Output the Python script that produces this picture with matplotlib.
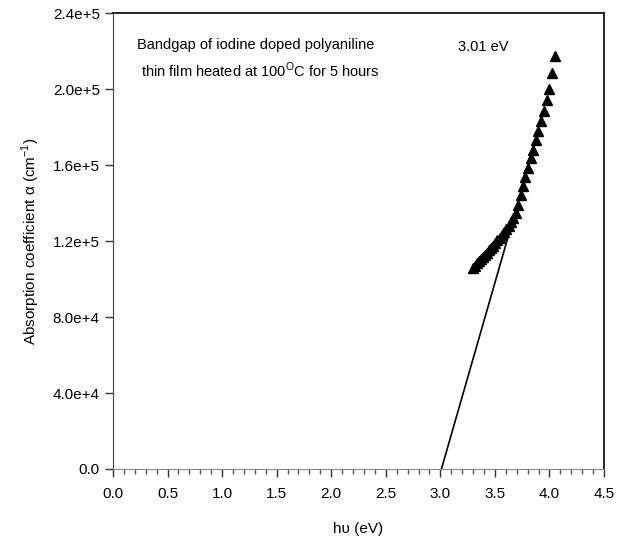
import numpy as np
import matplotlib.pyplot as plt
from matplotlib.ticker import MultipleLocator, FixedLocator

plt.rcParams['font.family'] = ['Liberation Sans', 'DejaVu Sans']
plt.rcParams['mathtext.fontset'] = 'custom'
plt.rcParams['mathtext.rm'] = 'Liberation Sans'

# photon energy (eV) and absorption coefficient (cm^-1)
energy = [3.298, 3.316, 3.333, 3.351, 3.370, 3.388, 3.407, 3.425, 3.444,
          3.464, 3.483, 3.503, 3.523, 3.543, 3.563, 3.584, 3.605, 3.626,
          3.647, 3.669, 3.690, 3.713, 3.735, 3.758, 3.780, 3.804, 3.827,
          3.851, 3.875, 3.899, 3.924, 3.949, 3.974, 4.000, 4.026, 4.052]
alpha = [1.060, 1.071, 1.082, 1.093, 1.105, 1.116, 1.127, 1.139, 1.151,
         1.163, 1.176, 1.190, 1.203, 1.217, 1.231, 1.246, 1.262, 1.280,
         1.300, 1.322, 1.350, 1.390, 1.440, 1.490, 1.535, 1.585, 1.635,
         1.680, 1.730, 1.780, 1.830, 1.885, 1.940, 2.000, 2.085, 2.175]
alpha = np.array(alpha) * 1e5

# linear extrapolation to the energy axis
gap = 3.01
fit_slope = 2.0e5
fit_end = 3.9

yticks = [0, 4e4, 8e4, 1.2e5, 1.6e5, 2.0e5, 2.4e5]
ytick_labels = ['0.0', '4.0e+4', '8.0e+4', '1.2e+5', '1.6e+5', '2.0e+5', '2.4e+5']

fig = plt.figure(figsize=(6.23, 5.36), dpi=100)
ax = fig.add_axes([0.1814, 0.125, 0.7881, 0.8507])

fx = np.array([gap, fit_end])
ax.plot(fx, fit_slope * (fx - gap), color='black', lw=1.2)
ax.plot(energy, alpha, linestyle='none', marker='^', color='black',
        markersize=6.5)

ax.set_xlim(0, 4.5)
ax.set_ylim(0, 2.4e5)
ax.set_xticks(np.arange(0, 4.51, 0.5))
ax.set_xticklabels([f'{v:.1f}' for v in np.arange(0, 4.51, 0.5)])
ax.xaxis.set_minor_locator(MultipleLocator(0.1))
ax.yaxis.set_major_locator(FixedLocator(yticks))
ax.set_yticklabels(ytick_labels)

ax.tick_params(axis='both', which='major', direction='out', length=6,
               width=1, labelsize=11, colors='#333333', labelcolor='black')
ax.tick_params(axis='x', which='major', pad=7)
ax.tick_params(axis='x', which='minor', direction='out', length=3.5,
               width=1, colors='#555555')
for side in ['top', 'right']:
    ax.spines[side].set_linewidth(1.2)
ax.spines['left'].set_color('#444444')
ax.spines['bottom'].set_color('#888888')

ax.set_xlabel('h\u03c5 (eV)', fontsize=11, labelpad=15)
ax.set_ylabel('Absorption coefficient \u03b1 (cm$^{-1}$)', fontsize=11,
              labelpad=8)

ax.text(0.22, 2.23e5, 'Bandgap of iodine doped polyaniline', fontsize=10.5,
        va='center')
ax.text(0.26, 2.10e5, 'thin film heated at 100$^{\\rm O}$C for 5 hours',
        fontsize=10.5, va='center')
ax.text(3.16, 2.22e5, '3.01 eV', fontsize=10.5, va='center')

fig.savefig('out.png', dpi=100)
